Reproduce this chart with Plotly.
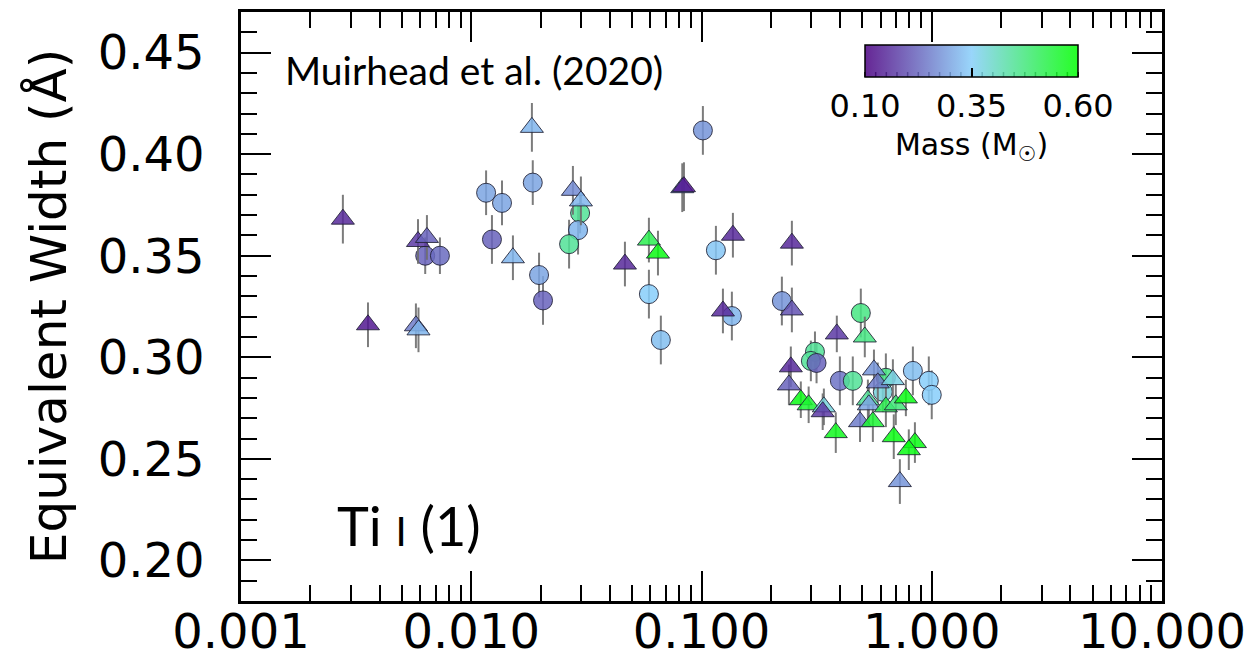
import plotly.graph_objects as go
import numpy as np

# ---- data: circles ----
circ_x = [0.00631, 0.00731, 0.0116, 0.0136, 0.0185, 0.0123, 0.0197, 0.0205, 0.0297, 0.0291,
          0.0266, 0.1014, 0.0591, 0.0666, 0.1155, 0.1355, 0.2234, 0.492, 0.311, 0.2985,
          0.316, 0.399, 0.454, 0.632, 0.613, 0.828, 0.971, 1.0]
circ_y = [0.350, 0.350, 0.381, 0.376, 0.386, 0.358, 0.3405, 0.328, 0.371, 0.3626,
          0.3557, 0.4117, 0.3311, 0.3085, 0.3527, 0.3203, 0.3277, 0.3218, 0.3027, 0.2982,
          0.2972, 0.2884, 0.2884, 0.2899, 0.283, 0.2933, 0.2884, 0.2815]
circ_m = [0.22, 0.23, 0.30, 0.30, 0.30, 0.22, 0.30, 0.22, 0.45, 0.32,
          0.45, 0.28, 0.35, 0.33, 0.34, 0.32, 0.28, 0.47, 0.45, 0.45,
          0.22, 0.24, 0.45, 0.47, 0.38, 0.33, 0.35, 0.35]
circ_e = [0.009, 0.009, 0.011, 0.011, 0.011, 0.012, 0.011, 0.012, 0.010, 0.012,
          0.012, 0.012, 0.012, 0.012, 0.012, 0.012, 0.012, 0.012, 0.010, 0.010,
          0.010, 0.012, 0.012, 0.012, 0.010, 0.012, 0.012, 0.012]

# ---- data: triangles ----
tri_x = [0.00277, 0.00356, 0.00575, 0.00590, 0.00587, 0.00642, 0.01517, 0.01834, 0.02764, 0.02994,
         0.0465, 0.0591, 0.0647, 0.0825, 0.0839, 0.1369, 0.1239, 0.2469, 0.2469, 0.2443,
         0.2397, 0.387, 0.512, 0.27, 0.292, 0.340, 0.336, 0.383, 0.561, 0.583,
         0.678, 0.528, 0.533, 0.488, 0.555, 0.632, 0.698, 0.772, 0.684, 0.845,
         0.795, 0.727]
tri_y = [0.368, 0.316, 0.3155, 0.3135, 0.357, 0.359, 0.349, 0.4132, 0.3822, 0.377,
         0.3459, 0.3577, 0.3513, 0.3835, 0.384, 0.3601, 0.3228, 0.3233, 0.3562, 0.2953,
         0.2864, 0.3115, 0.310, 0.2791, 0.2766, 0.2756, 0.2732, 0.2629, 0.2938, 0.2874,
         0.289, 0.279, 0.2766, 0.2683, 0.2683, 0.2756, 0.2766, 0.280, 0.2609, 0.258,
         0.2545, 0.2388]
tri_m = [0.15, 0.13, 0.25, 0.32, 0.17, 0.22, 0.32, 0.32, 0.27, 0.32,
         0.15, 0.52, 0.58, 0.30, 0.12, 0.15, 0.15, 0.20, 0.15, 0.15,
         0.22, 0.17, 0.47, 0.58, 0.55, 0.38, 0.17, 0.57, 0.28, 0.25,
         0.37, 0.45, 0.30, 0.25, 0.55, 0.52, 0.48, 0.58, 0.58, 0.58,
         0.58, 0.28]
tri_e = [0.012, 0.011, 0.011, 0.011, 0.011, 0.011, 0.011, 0.012, 0.012, 0.012,
         0.011, 0.011, 0.011, 0.012, 0.012, 0.011, 0.011, 0.011, 0.011, 0.010,
         0.010, 0.009, 0.010, 0.009, 0.009, 0.009, 0.009, 0.010, 0.010, 0.010,
         0.010, 0.010, 0.010, 0.010, 0.010, 0.010, 0.010, 0.009, 0.011, 0.010,
         0.010, 0.011]

mass_ticks = [0.10, 0.35, 0.60]
mass_minor = [round(0.10 + 0.025 * i, 3) for i in range(21)]

A = 0.85
cscale = [[0.0, f"rgba(75,0,130,{A})"], [0.5, f"rgba(135,206,250,{A})"], [1.0, f"rgba(0,255,0,{A})"]]

FONT = "DejaVu Sans"
W, H = 1258, 664
ML, MR, MT, MB = 241, 96, 12, 63
PW, PH = W - ML - MR, H - MT - MB

# colorbar geometry (paper units)
CB_X, CB_Y, CB_LEN, CB_TH = 0.7932, 0.944, 213, 32
cb_left = CB_X - CB_LEN / PW / 2
cb_w = CB_LEN / PW
cb_bot = CB_Y - CB_TH / PH

fig = go.Figure()

err_style = dict(type="data", color="rgba(110,110,110,0.9)", thickness=2, width=0)

fig.add_trace(go.Scatter(
    x=circ_x, y=circ_y, mode="markers",
    error_y=dict(array=circ_e, **err_style),
    marker=dict(symbol="circle", size=19, color=circ_m, coloraxis="coloraxis",
                line=dict(color="rgba(30,30,50,0.85)", width=1)),
    showlegend=False, hoverinfo="skip"))

fig.add_trace(go.Scatter(
    x=tri_x, y=tri_y, mode="markers",
    error_y=dict(array=tri_e, **err_style),
    marker=dict(symbol="triangle-up", size=20, color=tri_m, coloraxis="coloraxis",
                line=dict(color="rgba(30,30,50,0.85)", width=1)),
    showlegend=False, hoverinfo="skip"))

fig.update_layout(
    width=W, height=H,
    margin=dict(l=ML, r=MR, t=MT, b=MB, autoexpand=False),
    paper_bgcolor="white", plot_bgcolor="white",
    font=dict(family=FONT, color="black"),
    coloraxis=dict(
        cmin=0.10, cmax=0.60, colorscale=cscale,
        colorbar=dict(
            orientation="h", x=CB_X, xanchor="center", y=CB_Y, yanchor="top",
            len=CB_LEN, lenmode="pixels", thickness=CB_TH, xpad=0, ypad=0,
            outlinecolor="black", outlinewidth=1.5,
            tickmode="array", tickvals=mass_ticks, ticktext=["%.2f" % v for v in mass_ticks],
            ticks="inside", ticklen=9, tickwidth=1.5, tickcolor="black",
            tickfont=dict(family=FONT, size=32, color="black"),
            title=dict(text="Mass (M<sub>☉</sub>)", side="bottom",
                       font=dict(family=FONT, size=30, color="black")),
        )),
)

# minor ticks of the colorbar
for v in mass_minor:
    xx = cb_left + (v - 0.10) / 0.50 * cb_w
    fig.add_shape(type="line", xref="paper", yref="paper",
                  x0=xx, x1=xx, y0=cb_bot, y1=cb_bot + 5 / PH,
                  line=dict(color="black", width=1.5))

fig.update_xaxes(
    type="log", range=[-3, 1], dtick=1, tickformat=".3f", automargin=False,
    showline=True, linecolor="black", linewidth=2.5, mirror="allticks",
    ticks="inside", ticklen=30, tickwidth=2, tickcolor="black",
    showgrid=False, zeroline=False,
    tickfont=dict(family=FONT, size=48, color="black"),
    ticklabelstandoff=-13,
    minor=dict(dtick="D1", ticks="inside", ticklen=16, tickwidth=2, tickcolor="black", showgrid=False),
)
fig.update_yaxes(
    range=[0.18, 0.47], dtick=0.05, tick0=0.2, tickformat=".2f", automargin=False,
    showline=True, linecolor="black", linewidth=2.5, mirror="allticks",
    ticks="inside", ticklen=30, tickwidth=2, tickcolor="black",
    showgrid=False, zeroline=False,
    tickfont=dict(family=FONT, size=48, color="black"),
    ticklabelstandoff=24,
    minor=dict(dtick=0.01, ticks="inside", ticklen=16, tickwidth=2, tickcolor="black", showgrid=False),
    title=dict(text="Equivalent Width (Å)", font=dict(family=FONT, size=50, color="black"), standoff=16),
)

fig.add_annotation(text="Muirhead et al. (2020)", xref="paper", yref="paper",
                   x=0.0456, y=0.9015, xanchor="left", yanchor="middle", showarrow=False,
                   font=dict(family="Lato", size=39, color="black"))
fig.add_annotation(text="Ti <span style='font-size:40px'>I</span> (1)", xref="paper", yref="paper",
                   x=0.102, y=0.129, xanchor="left", yanchor="middle", showarrow=False,
                   font=dict(family="Lato", size=54, color="black"))

fig.write_html("out.html")
